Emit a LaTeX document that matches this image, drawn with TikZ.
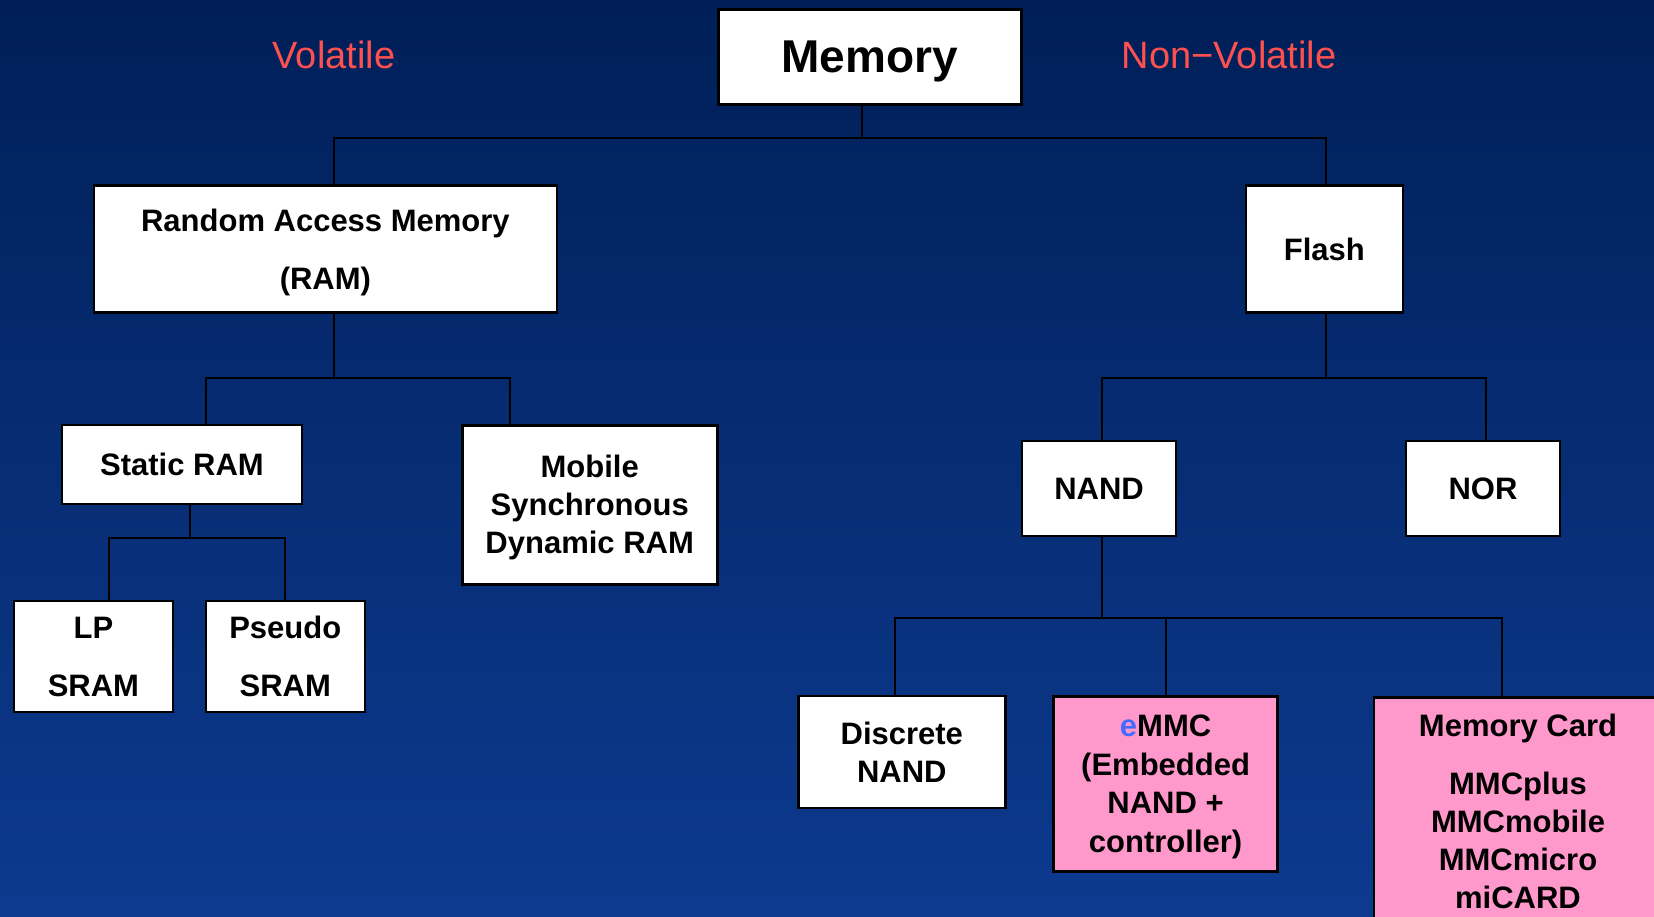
\documentclass[tikz,border=0pt]{standalone}
\usepackage{fontspec}
\setmainfont{Liberation Sans}
\usetikzlibrary{positioning}
\definecolor{bgtop}{RGB}{0,31,88}
\definecolor{bgbottom}{RGB}{13,58,143}
\definecolor{volred}{RGB}{255,80,80}
\definecolor{cardpink}{RGB}{255,153,204}
\definecolor{eblue}{RGB}{70,105,255}

\begin{document}
\begin{tikzpicture}[x=1pt,y=-1pt]
				\tikzset{block/.style = {shape=rectangle, draw=black, fill=white, line width=2.6pt, align=center, inner sep=0pt, text depth=0pt, font=\bfseries\fontsize{31}{38}\selectfont}}
				\tikzset{link/.style = {draw=black, line width=2pt}}
				\tikzset{kind/.style = {text=volred, font=\fontsize{38}{45}\selectfont}}
				\shade[top color=bgtop, bottom color=bgbottom] (0,0) rectangle (1654,917);
				\useasboundingbox (0,0) rectangle (1654,917);
				\clip (0,0) rectangle (1654,917);
				
				\node[kind] (VOL) at (334,55) {Volatile};
				\node[kind] (NONVOL) at (1229,55) {Non−Volatile};
				
				\node[block, minimum width=303, minimum height=95, font=\bfseries\fontsize{46}{55}\selectfont] (MEM) at (869.7,57) {Memory};
				\node[block, minimum width=463, minimum height=127] (RAM) at (325.4,249) {Random Access Memory\\[20pt](RAM)};
				\node[block, minimum width=157, minimum height=127] (FLASH) at (1324.3,249) {Flash};
				\node[block, minimum width=240, minimum height=79] (SRAM) at (182,464.6) {Static RAM};
				\node[block, minimum width=255, minimum height=159] (SDRAM) at (589.7,504.7) {Mobile\\Synchronous\\Dynamic RAM};
				\node[block, minimum width=159, minimum height=111] (LPSRAM) at (93.4,656.6) {LP\\[20pt]SRAM};
				\node[block, minimum width=159, minimum height=111] (PSRAM) at (285.3,656.6) {Pseudo\\[20pt]SRAM};
				\node[block, minimum width=154, minimum height=95] (NAND) at (1099.1,488.4) {NAND};
				\node[block, minimum width=154, minimum height=95] (NOR) at (1483,488.4) {NOR};
				\node[block, minimum width=207, minimum height=112] (DNAND) at (901.8,752.1) {Discrete\\NAND};
				\node[block, fill=cardpink, minimum width=224, minimum height=175, font=\bfseries\fontsize{31}{38.5}\selectfont] (EMMC) at (1165.6,783.7) {\textcolor{eblue}{e}MMC\\(Embedded\\NAND +\\controller)};
				\node[block, fill=cardpink, minimum width=288, inner ysep=16.5pt, anchor=north] (CARD) at (1518,696) {Memory Card\\[20pt]MMCplus\\MMCmobile\\MMCmicro\\miCARD};
				
				\draw[link] ([xshift=-7.5]MEM.south) -- ++(0,32) coordinate (MEMBUS);
				\draw[link] (MEMBUS) -| ([xshift=9]RAM.north);
				\draw[link] (MEMBUS) -| ([xshift=1.5]FLASH.north);
				
				\draw[link] ([xshift=9]RAM.south) -- ++(0,64) coordinate (RAMBUS);
				\draw[link] (RAMBUS) -| ([xshift=24]SRAM.north);
				\draw[link] (RAMBUS) -| ([xshift=-80]SDRAM.north);
				
				\draw[link] ([xshift=8]SRAM.south) -- ++(0,33) coordinate (SRAMBUS);
				\draw[link] (SRAMBUS) -| ([xshift=16]LPSRAM.north);
				\draw[link] (SRAMBUS) -| (PSRAM.north);
				
				\draw[link] ([xshift=1.5]FLASH.south) -- ++(0,64) coordinate (FLASHBUS);
				\draw[link] (FLASHBUS) -| ([xshift=3]NAND.north);
				\draw[link] (FLASHBUS) -| ([xshift=3]NOR.north);
				
				\draw[link] ([xshift=3]NAND.south) -- ++(0,81) coordinate (NANDBUS);
				\draw[link] (NANDBUS) -| ([xshift=-7]DNAND.north);
				\draw[link] (NANDBUS) -| (EMMC.north);
				\draw[link] (NANDBUS) -| ([xshift=-16]CARD.north);
				
				\end{tikzpicture}
\end{document}
